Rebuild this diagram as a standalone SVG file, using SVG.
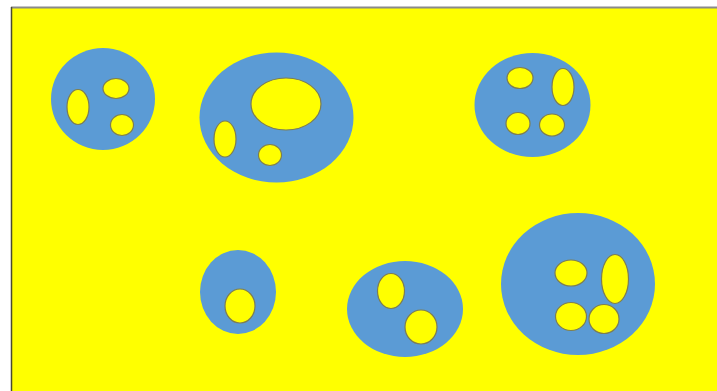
<svg xmlns="http://www.w3.org/2000/svg" width="717" height="391" viewBox="0 0 717 391">
<style>
.cell{fill:#5B9BD5}
.hole{fill:#FFFF00;stroke:#7d7d52;stroke-width:1.2}
</style>
<rect x="0" y="0" width="717" height="391" fill="#FFFFFF"/>
<rect x="11" y="8" width="706" height="383" fill="#FFFF00"/>
<line x1="11" y1="7.5" x2="717" y2="7.5" stroke="#8a8a8a" stroke-width="2"/>
<line x1="11.5" y1="7" x2="11.5" y2="391" stroke="#4a4a30" stroke-width="1.5"/>
<g id="cell1">
<ellipse class="cell" cx="103" cy="99" rx="52" ry="51"/>
<ellipse class="hole" cx="78" cy="107" rx="11" ry="17.5"/>
<ellipse class="hole" cx="116" cy="88.5" rx="13" ry="10"/>
<ellipse class="hole" cx="122" cy="125" rx="11.5" ry="10.5"/>
</g>
<g id="cell2">
<ellipse class="cell" cx="276.5" cy="117.5" rx="77" ry="65"/>
<ellipse class="hole" cx="286" cy="104" rx="35" ry="26"/>
<ellipse class="hole" cx="225" cy="139" rx="11" ry="18"/>
<ellipse class="hole" cx="270" cy="155" rx="11.5" ry="10.5"/>
</g>
<g id="cell3">
<ellipse class="cell" cx="532.5" cy="105" rx="58" ry="52"/>
<ellipse class="hole" cx="520" cy="78" rx="13" ry="10.5"/>
<ellipse class="hole" cx="563" cy="87" rx="11" ry="18.5"/>
<ellipse class="hole" cx="518" cy="123.5" rx="12" ry="11"/>
<ellipse class="hole" cx="552" cy="125" rx="12.5" ry="11"/>
</g>
<g id="cell4">
<ellipse class="cell" cx="238" cy="292" rx="38" ry="42"/>
<ellipse class="hole" cx="240" cy="306" rx="15" ry="17"/>
</g>
<g id="cell5">
<ellipse class="cell" cx="405" cy="309" rx="58" ry="48"/>
<ellipse class="hole" cx="391" cy="291" rx="13.5" ry="17.5"/>
<ellipse class="hole" cx="421" cy="327" rx="16" ry="17"/>
</g>
<g id="cell6">
<ellipse class="cell" cx="578" cy="284" rx="77" ry="71"/>
<ellipse class="hole" cx="571" cy="273" rx="16" ry="13"/>
<ellipse class="hole" cx="615" cy="279" rx="13.5" ry="24.5"/>
<ellipse class="hole" cx="571" cy="316.5" rx="15.5" ry="14"/>
<ellipse class="hole" cx="604" cy="319" rx="15" ry="14.5"/>
</g>
<g id="connectors"/>
</svg>
